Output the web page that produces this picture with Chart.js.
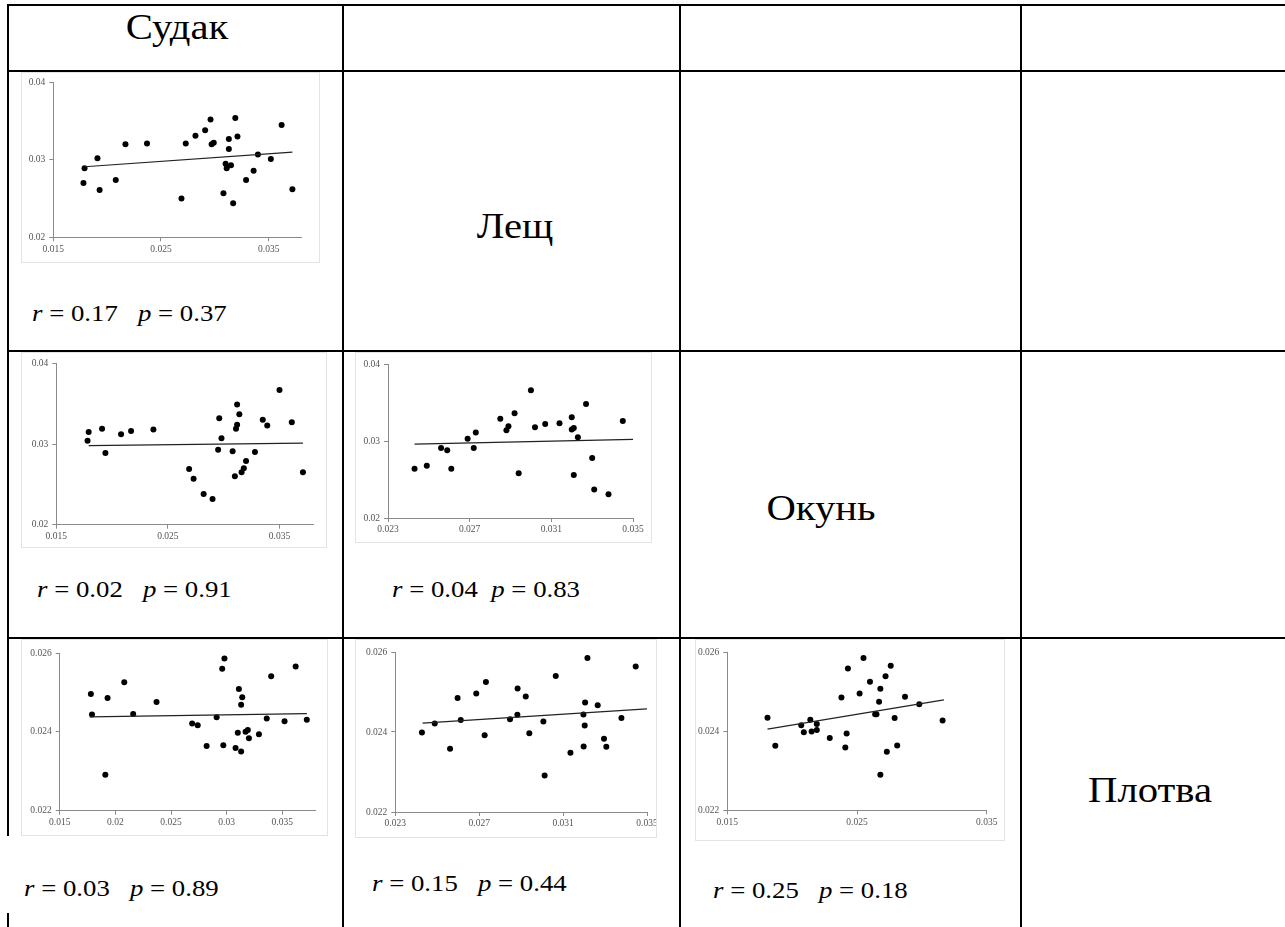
<!DOCTYPE html>
<html>
<head>
<meta charset="utf-8">
<script src="https://cdn.jsdelivr.net/npm/chart.js@4.4.0/dist/chart.umd.min.js"></script>
<style>
  html, body { margin: 0; padding: 0; background: #fff; }
  body { width: 1285px; height: 927px; position: relative; overflow: hidden;
         font-family: "Liberation Serif", "Times New Roman", serif; color: #000; }
  .rule { position: absolute; background: #000; z-index: 5; }
  .box { position: absolute; border: 1px solid #e3e3e3; box-sizing: border-box; background: #fff; }
  .box canvas { position: absolute; left: 0; top: 0; }
  .name { position: absolute; font-size: 36px; white-space: nowrap;
          transform: translate(-50%, -50%) scaleX(1.13); }
  .stat { position: absolute; font-size: 23.5px; white-space: pre;
          transform-origin: left center; transform: translateY(-50%) scaleX(1.14); }
  .stat i { font-style: italic; }
</style>
</head>
<body>
<script>
// === Судак (x) – Лещ (y) ===
const sudakLeshX = [0.0178, 0.0179, 0.0191, 0.0193, 0.0208, 0.0217, 0.0237, 0.0269, 0.0273, 0.0282, 0.0291, 0.0296, 0.0297, 0.0299, 0.0308, 0.0310, 0.0311, 0.0313, 0.0313, 0.0315, 0.0317, 0.0319, 0.0321, 0.0329, 0.0336, 0.0340, 0.0352, 0.0362, 0.0372];
const sudakLeshY = [0.0270, 0.0289, 0.0302, 0.0261, 0.0274, 0.0320, 0.0321, 0.0250, 0.0321, 0.0331, 0.0338, 0.0352, 0.0320, 0.0322, 0.0257, 0.0295, 0.0289, 0.0327, 0.0314, 0.0293, 0.0244, 0.0354, 0.0330, 0.0274, 0.0286, 0.0307, 0.0301, 0.0345, 0.0262];
const sudakLeshFitX = [0.0179, 0.0372];
const sudakLeshFitY = [0.0291, 0.0310];

// === Судак – Окунь ===
const sudakOkunX = [0.0178, 0.0179, 0.0191, 0.0194, 0.0208, 0.0217, 0.0237, 0.0269, 0.0273, 0.0282, 0.0290, 0.0296, 0.0295, 0.0298, 0.0308, 0.0310, 0.0311, 0.0312, 0.0312, 0.0314, 0.0316, 0.0318, 0.0320, 0.0328, 0.0335, 0.0339, 0.0350, 0.0361, 0.0371];
const sudakOkunY = [0.0304, 0.0315, 0.0319, 0.0289, 0.0312, 0.0316, 0.0318, 0.0269, 0.0257, 0.0238, 0.0232, 0.0332, 0.0293, 0.0307, 0.0291, 0.0260, 0.0319, 0.0349, 0.0324, 0.0337, 0.0265, 0.0270, 0.0279, 0.0290, 0.0330, 0.0323, 0.0367, 0.0327, 0.0265];
const sudakOkunFitX = [0.0179, 0.0371];
const sudakOkunFitY = [0.0298, 0.0301];

// === Лещ – Окунь ===
const leshOkunX = [0.0243, 0.0249, 0.0256, 0.0259, 0.0261, 0.0269, 0.0272, 0.0273, 0.0285, 0.0288, 0.0289, 0.0292, 0.0294, 0.0300, 0.0302, 0.0307, 0.0314, 0.0320, 0.0320, 0.0321, 0.0321, 0.0323, 0.0327, 0.0330, 0.0331, 0.0338, 0.0345];
const leshOkunY = [0.0264, 0.0268, 0.0291, 0.0288, 0.0264, 0.0303, 0.0291, 0.0311, 0.0329, 0.0314, 0.0319, 0.0336, 0.0258, 0.0366, 0.0318, 0.0322, 0.0323, 0.0315, 0.0331, 0.0317, 0.0256, 0.0305, 0.0348, 0.0278, 0.0237, 0.0231, 0.0326];
const leshOkunFitX = [0.0243, 0.0350];
const leshOkunFitY = [0.0296, 0.0302];

// === Судак – Плотва ===
const sudakPlotvaX = [0.0178, 0.0179, 0.0191, 0.0193, 0.0208, 0.0216, 0.0237, 0.0269, 0.0274, 0.0282, 0.0291, 0.0296, 0.0297, 0.0298, 0.0308, 0.0310, 0.0311, 0.0313, 0.0313, 0.0314, 0.0317, 0.0319, 0.0320, 0.0329, 0.0336, 0.0340, 0.0352, 0.0362, 0.0372];
const sudakPlotvaY = [0.02496, 0.02444, 0.02291, 0.02486, 0.02526, 0.02445, 0.02476, 0.02421, 0.02417, 0.02364, 0.02437, 0.02560, 0.02366, 0.02586, 0.02359, 0.02398, 0.02509, 0.02350, 0.02469, 0.02488, 0.02400, 0.02405, 0.02384, 0.02394, 0.02434, 0.02541, 0.02427, 0.02566, 0.02431];
const sudakPlotvaFitX = [0.0177, 0.0372];
const sudakPlotvaFitY = [0.02438, 0.02446];

// === Лещ – Плотва ===
const leshPlotvaX = [0.02427, 0.02488, 0.02561, 0.02597, 0.02612, 0.02686, 0.02726, 0.02732, 0.02847, 0.02882, 0.02883, 0.02922, 0.02939, 0.03006, 0.03012, 0.03065, 0.03135, 0.03197, 0.03198, 0.03203, 0.03205, 0.03216, 0.03265, 0.03295, 0.03306, 0.03378, 0.03446];
const leshPlotvaY = [0.02399, 0.02421, 0.02358, 0.02485, 0.02430, 0.02496, 0.02392, 0.02525, 0.02432, 0.02443, 0.02509, 0.02489, 0.02397, 0.02426, 0.02291, 0.02540, 0.02348, 0.02444, 0.02364, 0.02416, 0.02474, 0.02585, 0.02467, 0.02383, 0.02363, 0.02435, 0.02564];
const leshPlotvaFitX = [0.0243, 0.0350];
const leshPlotvaFitY = [0.02422, 0.02458];

// === Окунь – Плотва ===
const okunPlotvaX = [0.0181, 0.0187, 0.0207, 0.0209, 0.0214, 0.0215, 0.0219, 0.0219, 0.0229, 0.0238, 0.0241, 0.0242, 0.0243, 0.0252, 0.0255, 0.0260, 0.0264, 0.0265, 0.0267, 0.0268, 0.0268, 0.0272, 0.0273, 0.0276, 0.0279, 0.0281, 0.0287, 0.0298, 0.0316];
const okunPlotvaY = [0.02434, 0.02363, 0.02415, 0.02397, 0.02429, 0.02399, 0.02418, 0.02403, 0.02383, 0.02485, 0.02359, 0.02394, 0.02558, 0.02495, 0.02585, 0.02525, 0.02443, 0.02443, 0.02474, 0.02290, 0.02507, 0.02539, 0.02348, 0.02565, 0.02433, 0.02364, 0.02487, 0.02468, 0.02427];
const okunPlotvaFitX = [0.0181, 0.0317];
const okunPlotvaFitY = [0.02405, 0.02479];

// оси
const rangeWide = [0.015, 0.038];
const rangeMid = [0.015, 0.035];
const rangeLesh = [0.023, 0.035];
const rangeHigh = [0.02, 0.04];
const rangeLow = [0.022, 0.026];
const ticksWide = [0.015, 0.025, 0.035];
const ticksFine = [0.015, 0.02, 0.025, 0.03, 0.035];
const ticksLesh = [0.023, 0.027, 0.031, 0.035];
const ticksHigh = [0.02, 0.03, 0.04];
const ticksLow = [0.022, 0.024, 0.026];

// корреляции
const rValues = [0.17, 0.02, 0.04, 0.03, 0.15, 0.25];
const pValues = [0.37, 0.91, 0.83, 0.89, 0.44, 0.18];
const statGaps = ["   ", "   ", "  ", "   ", "   ", "   "];

const speciesNames = ["Судак", "Лещ", "Окунь", "Плотва"];

// === Линии таблицы ===
function rule(x, y, w, h) {
  const d = document.createElement("div");
  d.className = "rule";
  Object.assign(d.style, { left: x + "px", top: y + "px", width: w + "px", height: h + "px" });
  document.body.appendChild(d);
}
rule(7, 4, 1278, 2);
rule(7, 70, 1278, 2);
rule(7, 350, 1278, 2);
rule(7, 637, 1278, 2);
rule(7, 4, 2, 832);
rule(7, 913, 2, 14);
rule(342, 4, 2, 923);
rule(679, 4, 2, 923);
rule(1020, 4, 2, 923);

const namePos = [[177, 27], [515, 226], [821, 508], [1150, 790]];
speciesNames.forEach((n, i) => {
  const d = document.createElement("div");
  d.className = "name";
  d.textContent = n;
  d.style.left = namePos[i][0] + "px";
  d.style.top = namePos[i][1] + "px";
  document.body.appendChild(d);
});

// подписи r и p: [левый край, центр по y]
const statPos = [[32, 313], [37, 589], [392, 589], [24, 888], [372, 883], [713, 890]];
statPos.forEach((s, i) => {
  const d = document.createElement("div");
  d.className = "stat";
  d.innerHTML = "<i>r</i> = " + rValues[i].toFixed(2) + statGaps[i] + "<i>p</i> = " + pValues[i].toFixed(2);
  Object.assign(d.style, { left: s[0] + "px", top: s[1] + "px" });
  document.body.appendChild(d);
});

// === Диаграммы рассеяния ===
// box: рамка картинки, area: область построения (px страницы)
const frames = [
  { box: [21, 72, 320, 263], area: [53.3, 82.3, 301, 237.3] },
  { box: [21, 352, 327, 548], area: [56.3, 363.3, 313, 524.7] },
  { box: [355, 352, 652, 543], area: [388, 364, 633, 518] },
  { box: [21, 639, 328, 836], area: [59.7, 653, 315.7, 810.7] },
  { box: [355, 639, 657, 838], area: [395.3, 652, 647, 812] },
  { box: [695, 639, 1005, 841], area: [727.3, 652, 986.7, 810.3] },
];

const plots = [
  { xs: sudakLeshX, ys: sudakLeshY, fx: sudakLeshFitX, fy: sudakLeshFitY, xr: rangeWide, yr: rangeHigh, xt: ticksWide, yt: ticksHigh },
  { xs: sudakOkunX, ys: sudakOkunY, fx: sudakOkunFitX, fy: sudakOkunFitY, xr: rangeWide, yr: rangeHigh, xt: ticksWide, yt: ticksHigh },
  { xs: leshOkunX, ys: leshOkunY, fx: leshOkunFitX, fy: leshOkunFitY, xr: rangeLesh, yr: rangeHigh, xt: ticksLesh, yt: ticksHigh },
  { xs: sudakPlotvaX, ys: sudakPlotvaY, fx: sudakPlotvaFitX, fy: sudakPlotvaFitY, xr: rangeWide, yr: rangeLow, xt: ticksFine, yt: ticksLow },
  { xs: leshPlotvaX, ys: leshPlotvaY, fx: leshPlotvaFitX, fy: leshPlotvaFitY, xr: rangeLesh, yr: rangeLow, xt: ticksLesh, yt: ticksLow },
  { xs: okunPlotvaX, ys: okunPlotvaY, fx: okunPlotvaFitX, fy: okunPlotvaFitY, xr: rangeMid, yr: rangeLow, xt: ticksWide, yt: ticksLow },
];

const axisColor = "#8a8a8a";
const tickFont = { family: "'Liberation Serif', 'Times New Roman', serif", size: 9.5 };

function makePlot(p, f) {
  const box = document.createElement("div");
  box.className = "box";
  const bw = f.box[2] - f.box[0], bh = f.box[3] - f.box[1];
  Object.assign(box.style, { left: f.box[0] + "px", top: f.box[1] + "px", width: bw + "px", height: bh + "px" });
  const w = bw - 2, h = bh - 2;
  const cv = document.createElement("canvas");
  cv.width = w; cv.height = h;
  cv.style.width = w + "px"; cv.style.height = h + "px";
  box.appendChild(cv);
  document.body.appendChild(box);

  const ox = f.box[0] + 1, oy = f.box[1] + 1;
  const left = f.area[0] - ox, top = f.area[1] - oy;
  const right = f.area[2] - ox, bottom = f.area[3] - oy;

  new Chart(cv, {
    type: "scatter",
    data: {
      datasets: [
        {
          data: p.fx.map((x, i) => ({ x: x, y: p.fy[i] })),
          showLine: true, borderColor: "#222", borderWidth: 1.2, pointRadius: 0,
        },
        {
          data: p.xs.map((x, i) => ({ x: x, y: p.ys[i] })),
          backgroundColor: "#000", borderColor: "#000", borderWidth: 0, pointRadius: 3,
        },
      ],
    },
    options: {
      responsive: false, animation: false, devicePixelRatio: 1,
      layout: { padding: { left: 0, top: top, right: w - right, bottom: 0 } },
      plugins: { legend: { display: false }, tooltip: { enabled: false } },
      scales: {
        x: {
          type: "linear", min: p.xr[0], max: p.xr[1],
          afterBuildTicks: (s) => { s.ticks = p.xt.map((v) => ({ value: v })); },
          afterFit: (s) => { s.height = h - bottom; s.paddingLeft = 0; s.paddingRight = 0; },
          grid: { drawOnChartArea: false, drawTicks: true, tickLength: 4, color: axisColor, lineWidth: 1 },
          border: { color: axisColor, width: 1 },
          ticks: { font: tickFont, color: "#555", padding: 2, maxRotation: 0, autoSkip: false, callback: (v) => String(v) },
        },
        y: {
          type: "linear", min: p.yr[0], max: p.yr[1],
          afterBuildTicks: (s) => { s.ticks = p.yt.map((v) => ({ value: v })); },
          afterFit: (s) => { s.width = left; s.paddingTop = 0; s.paddingBottom = 0; },
          grid: { drawOnChartArea: false, drawTicks: true, tickLength: 4, color: axisColor, lineWidth: 1 },
          border: { color: axisColor, width: 1 },
          ticks: { font: tickFont, color: "#555", padding: 4, autoSkip: false, callback: (v) => String(v) },
        },
      },
    },
  });
}

plots.forEach((p, i) => makePlot(p, frames[i]));
</script>
</body>
</html>
